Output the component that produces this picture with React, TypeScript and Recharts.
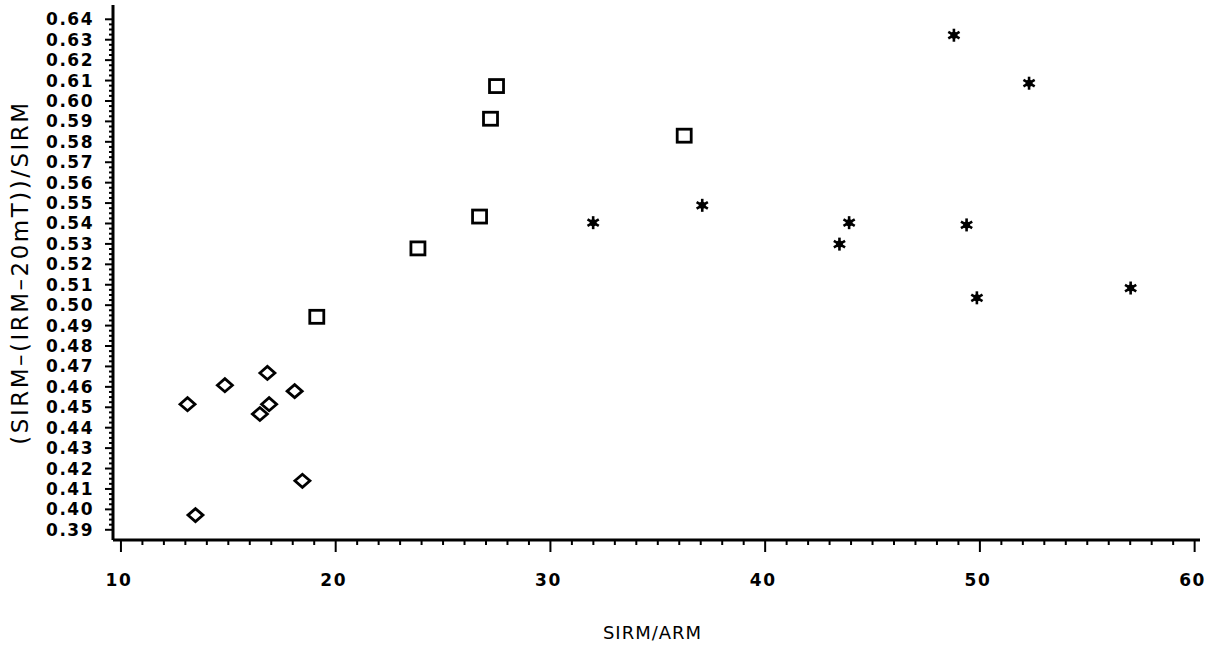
import React from 'react'
import { ScatterChart, Scatter, XAxis, YAxis, Label } from 'recharts'

// diamonds (low SIRM/ARM group)
const diamondX = [13.1, 14.84, 16.82, 18.09, 16.9, 16.47, 18.45, 13.47]
const diamondY = [0.4515, 0.4608, 0.4668, 0.4579, 0.4515, 0.4467, 0.414, 0.3972]

// squares
const squareX = [27.49, 27.21, 26.7, 23.83, 36.23, 19.12]
const squareY = [0.6073, 0.5913, 0.5434, 0.5278, 0.583, 0.4943]

// stars
const starX = [48.79, 52.29, 43.91, 43.46, 49.38, 49.86, 57.02, 37.07, 31.99]
const starY = [0.6322, 0.6087, 0.5404, 0.5299, 0.5393, 0.5036, 0.5084, 0.5489, 0.5404]

const xTicks = Array.from({ length: 51 }, (_, i) => 10 + i)
const yTicks = Array.from({ length: 101 }, (_, i) => Math.round((0.39 + i * 0.0025) * 10000) / 10000)

const toPoints = (xs: number[], ys: number[]) => xs.map((x, i) => ({ x, y: ys[i] }))

const FONT = '"DejaVu Sans", Verdana, sans-serif'

const Diamond = (p: any) => {
  const { cx, cy } = p
  return <polygon points={`${cx - 7.5},${cy} ${cx},${cy - 6.5} ${cx + 7.5},${cy} ${cx},${cy + 6.5}`} fill="none" stroke="#000" strokeWidth={2.8} />
}

const Square = (p: any) => {
  const { cx, cy } = p
  return <rect x={cx - 7} y={cy - 6.5} width={14} height={13} fill="none" stroke="#000" strokeWidth={2.8} />
}

const Star = (p: any) => {
  const { cx, cy } = p
  const r = 6.5
  const lines = [90, 30, 150].map((a) => {
    const rad = (a * Math.PI) / 180
    return <line key={a} x1={cx - r * Math.cos(rad)} y1={cy - r * Math.sin(rad)} x2={cx + r * Math.cos(rad)} y2={cy + r * Math.sin(rad)} stroke="#000" strokeWidth={2.6} />
  })
  return (
    <g>
      {lines}
      <circle cx={cx} cy={cy} r={3.5} fill="#000" />
    </g>
  )
}

const XTick = (p: any) => {
  const { x, y, payload } = p
  const v = payload.value
  const major = Math.abs(v % 10) < 1e-6
  return (
    <g>
      <line x1={x} y1={y} x2={x} y2={y + (major ? 12 : 5)} stroke="#000" strokeWidth={2} />
      {major && (
        <text x={x - 2} y={y + 46} textAnchor="middle" fontFamily={FONT} fontWeight="bold" fontSize={17} letterSpacing={1.5} fill="#000">
          {v}
        </text>
      )}
    </g>
  )
}

const YTick = (p: any) => {
  const { x, y, payload } = p
  const v = payload.value
  const major = Math.abs(Math.round(v * 100) - v * 100) < 1e-6
  return (
    <g>
      <line x1={x} y1={y} x2={x - (major ? 8 : 4)} y2={y} stroke="#000" strokeWidth={2} />
      {major && (
        <text x={x - 19} y={y + 6} textAnchor="end" fontFamily={FONT} fontWeight="bold" fontSize={17} letterSpacing={1.5} fill="#000">
          {v.toFixed(2)}
        </text>
      )}
    </g>
  )
}

export default function App() {
  return (
    <div style={{ position: 'absolute', left: 0, top: 0, background: '#fff' }}>
      <ScatterChart width={1213} height={647} margin={{ top: 5, right: 13, bottom: 0, left: 0 }}>
        <XAxis
          type="number"
          dataKey="x"
          domain={[9.63, 60.25]}
          ticks={xTicks}
          interval={0}
          tick={<XTick />}
          tickLine={false}
          tickSize={0}
          tickMargin={0}
          axisLine={{ stroke: '#000', strokeWidth: 3 }}
          height={107}
          allowDataOverflow
        >
          <Label value="SIRM/ARM" position="insideBottom" offset={8} fontFamily={FONT} fontSize={18} letterSpacing={1} fill="#000" dx={-4} />
        </XAxis>
        <YAxis
          type="number"
          dataKey="y"
          domain={[0.385, 0.647]}
          ticks={yTicks}
          interval={0}
          tick={<YTick />}
          tickLine={false}
          tickSize={0}
          tickMargin={0}
          axisLine={{ stroke: '#000', strokeWidth: 3 }}
          width={113}
          allowDataOverflow
        >
          <Label value="(SIRM–(IRM–20mT))/SIRM" angle={-90} position="insideLeft" offset={20} fontFamily={FONT} fontSize={23} letterSpacing={2.5} fill="#000" style={{ textAnchor: 'middle' }} />
        </YAxis>
        <Scatter data={toPoints(diamondX, diamondY)} shape={<Diamond />} isAnimationActive={false} />
        <Scatter data={toPoints(squareX, squareY)} shape={<Square />} isAnimationActive={false} />
        <Scatter data={toPoints(starX, starY)} shape={<Star />} isAnimationActive={false} />
      </ScatterChart>
    </div>
  )
}
